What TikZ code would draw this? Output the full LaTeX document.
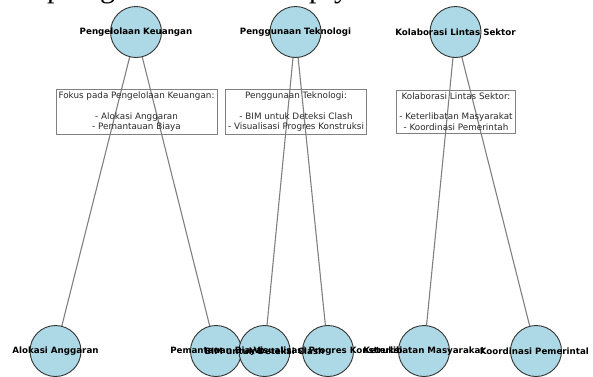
\documentclass[tikz,border=0pt]{standalone}
\usepackage{fontspec}
\setmainfont{DejaVu Sans}
\newfontfamily\titleserif{Liberation Serif}
\definecolor{nodeblue}{RGB}{173,216,230}
\definecolor{nodeedge}{RGB}{51,51,51}
\definecolor{edgegray}{RGB}{128,128,128}
\definecolor{boxtext}{RGB}{40,40,40}
\tikzset{
  topic/.style={circle, minimum size=51pt, inner sep=0pt, fill=nodeblue, draw=nodeedge, line width=0.9pt},
  lbl/.style={font=\fontsize{8.7}{10.4}\selectfont\bfseries, text=black, inner sep=0pt},
  link/.style={draw=edgegray, line width=1.1pt},
  infobox/.style={draw=edgegray, line width=0.8pt, align=center, inner xsep=2.6pt, inner ysep=2.6pt,
    font=\fontsize{8.8}{10.4}\selectfont, text=boxtext},
  frag/.style={font=\titleserif\fontsize{30}{30}\selectfont, anchor=base west, inner sep=0pt}
}
\begin{document}
\begin{tikzpicture}[x=1pt,y=-1pt]
\useasboundingbox (0,0) rectangle (593,376);
% clipped fragments of a title above the picture
\begin{scope}
\clip (0,0) rectangle (593,376);
\node[frag] (f1) at (47,-3) {p};
\node[frag] (f2) at (100,-3) {g};
\node[frag] (f3) at (309,-3) {p};
\node[frag] (f4) at (334,-3) {y};
\end{scope}
% coordinates of the nodes
\coordinate (p1) at (136,32);
\coordinate (p2) at (295.5,32);
\coordinate (p3) at (455.5,32);
\coordinate (q1) at (55.5,351);
\coordinate (q2) at (216,351);
\coordinate (q3) at (264.5,351);
\coordinate (q4) at (328,351);
\coordinate (q5) at (424,351);
\coordinate (q6) at (536,351);
% connectors
\draw[link] (p1) -- (q1);
\draw[link] (p1) -- (q2);
\draw[link] (p2) -- (q3);
\draw[link] (p2) -- (q4);
\draw[link] (p3) -- (q5);
\draw[link] (p3) -- (q6);
% info boxes
\node[infobox] (box1) at (136.5,111.5) {Fokus pada Pengelolaan Keuangan:\\[10.4pt]- Alokasi Anggaran\\- Pemantauan Biaya};
\node[infobox] (box2) at (296,111.5) {Penggunaan Teknologi:\\[10.4pt]- BIM untuk Deteksi Clash\\- Visualisasi Progres Konstruksi};
\node[infobox] (box3) at (456,111.5) {Kolaborasi Lintas Sektor:\\[10.4pt]- Keterlibatan Masyarakat\\- Koordinasi Pemerintah};
% circles
\node[topic] (t1) at (p1) {};
\node[topic] (t2) at (p2) {};
\node[topic] (t3) at (p3) {};
\node[topic] (b1) at (q1) {};
\node[topic] (b2) at (q2) {};
\node[topic] (b3) at (q3) {};
\node[topic] (b4) at (q4) {};
\node[topic] (b5) at (q5) {};
\node[topic] (b6) at (q6) {};
% labels
\node[lbl] (lt1) at (t1) {Pengelolaan Keuangan};
\node[lbl] (lt2) at (t2) {Penggunaan Teknologi};
\node[lbl] (lt3) at (t3) {Kolaborasi Lintas Sektor};
\begin{scope}
\clip (0,0) rectangle (587,376);
\node[lbl] (lb1) at (b1) {Alokasi Anggaran};
\node[lbl] (lb2) at (b2) {Pemantauan Biaya};
\node[lbl] (lb3) at (b3) {BIM untuk Deteksi Clash};
\node[lbl] (lb4) at (b4) {Visualisasi Progres Konstruksi};
\node[lbl] (lb5) at (b5) {Keterlibatan Masyarakat};
\node[lbl] (lb6) at (b6) {Koordinasi Pemerintah};
\end{scope}
\end{tikzpicture}
\end{document}
